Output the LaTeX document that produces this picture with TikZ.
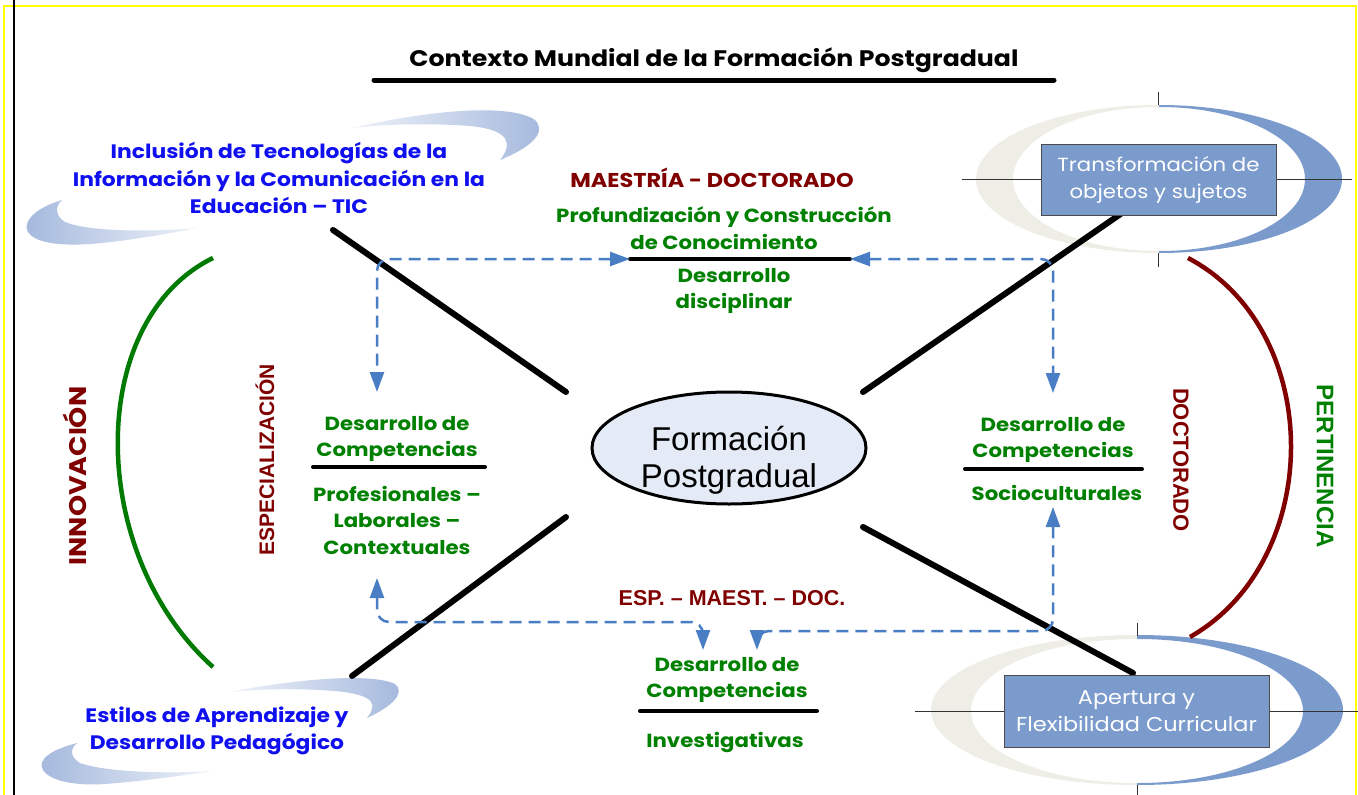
\documentclass[tikz,border=0pt]{standalone}
\usepackage{fontspec}
\setmainfont{Poppins}[FakeStretch=1.12]
\newfontfamily\arialf{Liberation Sans}
\usetikzlibrary{arrows.meta,shapes.geometric}
\definecolor{dred}{HTML}{800000}
\definecolor{dgreen}{HTML}{008000}
\definecolor{arcgreen}{HTML}{007A00}
\definecolor{tblue}{HTML}{0F0FF0}
\definecolor{dashblue}{HTML}{4A7EC4}
\definecolor{boxblue}{HTML}{7B9BCD}
\definecolor{beige}{HTML}{EEEEE6}
\definecolor{swblue}{HTML}{A4B8DD}
\definecolor{swlight}{HTML}{EEF2F9}
\definecolor{ellfill}{HTML}{E4EAF6}
\definecolor{frameyellow}{HTML}{FFFF00}
\tikzset{
  gtext/.style={text=dgreen, font=\bfseries\fontsize{19}{26.5}\selectfont, align=center, inner sep=0pt},
  btext/.style={text=tblue, font=\bfseries\fontsize{19.5}{27.5}\selectfont, align=center, inner sep=0pt},
  rtext/.style={text=dred, font=\bfseries\fontsize{20}{22}\selectfont, inner sep=0pt},
  rtextA/.style={text=dred, font=\arialf\bfseries\fontsize{21.5}{23}\selectfont, inner sep=0pt},
  xline/.style={line width=6pt, line cap=round, black},
  sepline/.style={line width=4pt, line cap=round, black},
  dasharr/.style={draw=dashblue, line width=2.5pt, dash pattern=on 12pt off 7pt, rounded corners=12pt,
     arrows={Triangle[length=20pt,width=14pt]-Triangle[length=20pt,width=14pt]}},
  rbox/.style={draw=black!70, line width=1pt, fill=boxblue, text=white, font=\fontsize{19}{27}\selectfont, align=center, inner sep=0pt},
  cross/.style={line width=0.8pt, black!80},
}
\begin{document}
\begin{tikzpicture}[x=1pt,y=-1pt]
\useasboundingbox (0,0) rectangle (1358,795);
\fill[white] (0,0) rectangle (1358,795);
% frame
\draw[frameyellow, line width=2pt] (4,795) -- (4,6) -- (1356,6) -- (1356,795);
\draw[black, line width=2pt] (14,0) -- (14,795);

% title
\node[inner sep=0pt, font=\bfseries\fontsize{22.5}{24}\selectfont] (title) at (714,60) {Contexto Mundial de la Formación Postgradual};
\coordinate (tl) at (374,80); \coordinate (tr) at (1054,80);
\draw[line width=5pt, line cap=round] (tl) -- (tr);

% top-left swoosh
\shade[left color=swlight, right color=swblue] (352,128) .. controls (430,110) and (510,103) .. (535,120) .. controls (547,132) and (532,147) .. (500,160) .. controls (512,145) and (512,130) .. (470,126) .. controls (430,123) and (385,124) .. (352,128) -- cycle;
\shade[left color=swblue, right color=swlight] (62,200) .. controls (35,208) and (22,222) .. (28,232) .. controls (35,243) and (60,246) .. (90,244) .. controls (130,241) and (170,233) .. (198,228) .. controls (150,232) and (90,232) .. (65,222) .. controls (55,216) and (55,206) .. (62,200) -- cycle;
% bottom-left swoosh
\shade[left color=swlight, right color=swblue] (230,692) .. controls (290,680) and (370,672) .. (395,684) .. controls (405,692) and (395,705) .. (367,718) .. controls (377,705) and (377,695) .. (335,691) .. controls (295,688) and (260,689) .. (230,692) -- cycle;
\shade[left color=swblue, right color=swlight] (77,743) .. controls (50,750) and (37,760) .. (43,770) .. controls (50,781) and (75,786) .. (105,784) .. controls (145,781) and (185,775) .. (213,771) .. controls (165,774) and (105,772) .. (80,763) .. controls (70,757) and (70,749) .. (77,743) -- cycle;

% top-right ring
\begin{scope}
\clip (960,90) rectangle (1159,270);
\fill[beige, even odd rule] (1159,179) ellipse [x radius=183, y radius=74] (1158,179) ellipse [x radius=145, y radius=72];
\end{scope}
\begin{scope}
\clip (1159,90) rectangle (1358,270);
\fill[boxblue, even odd rule] (1159,179) ellipse [x radius=183, y radius=74] (1160,179) ellipse [x radius=145, y radius=72];
\end{scope}
\coordinate (c1l) at (962,179); \coordinate (c1r) at (1352,179);
\coordinate (c1t1) at (1158,92); \coordinate (c1t2) at (1158,105);
\coordinate (c1b1) at (1158,253); \coordinate (c1b2) at (1158,267);
\draw[cross] (c1l) -- (c1r);
\draw[cross] (c1t1) -- (c1t2);
\draw[cross] (c1b1) -- (c1b2);

% bottom-right ring
\begin{scope}
\clip (920,620) rectangle (1137,795);
\fill[beige, even odd rule] (1137,710) ellipse [x radius=206, y radius=75] (1136,711) ellipse [x radius=165, y radius=72];
\end{scope}
\begin{scope}
\clip (1137,620) rectangle (1358,795);
\fill[boxblue, even odd rule] (1137,710) ellipse [x radius=206, y radius=75] (1138,711) ellipse [x radius=165, y radius=72];
\end{scope}
\coordinate (c2l) at (915,711); \coordinate (c2r) at (1358,711);
\coordinate (c2t1) at (1137,623); \coordinate (c2t2) at (1137,636);
\coordinate (c2b1) at (1137,785); \coordinate (c2b2) at (1137,795);
\draw[cross] (c2l) -- (c2r);
\draw[cross] (c2t1) -- (c2t2);
\draw[cross] (c2b1) -- (c2b2);

% arcs
\coordinate (ga) at (213,258); \coordinate (gb) at (213,667);
\draw[arcgreen, line width=4.5pt] (ga) .. controls (86,320) and (86,553) .. (gb);
\coordinate (ra) at (1188,258); \coordinate (rb) at (1190,637);
\draw[dred, line width=4.5pt] (ra) .. controls (1325,330) and (1325,560) .. (rb);

% black X lines
\coordinate (ulA) at (333,230); \coordinate (ulB) at (566,392);
\coordinate (urA) at (863,392); \coordinate (urB) at (1122,213);
\coordinate (llA) at (352,676); \coordinate (llB) at (566,517);
\coordinate (lrA) at (863,527); \coordinate (lrB) at (1133,673);
\draw[xline] (ulA) -- (ulB);
\draw[xline] (urA) -- (urB);
\draw[xline] (llA) -- (llB);
\draw[xline] (lrA) -- (lrB);

% separator lines
\coordinate (mdL) at (630,259); \coordinate (mdR) at (850,259);
\coordinate (lsL) at (313,467); \coordinate (lsR) at (485,467);
\coordinate (rsL) at (965,469); \coordinate (rsR) at (1142,469);
\coordinate (bsL) at (640,711); \coordinate (bsR) at (817,711);
\draw[sepline] (mdL) -- (mdR);
\draw[sepline] (lsL) -- (lsR);
\draw[sepline] (rsL) -- (rsR);
\draw[sepline] (bsL) -- (bsR);

% dashed arrows
\coordinate (lTop) at (377,392);
\coordinate (rTop) at (1053,393);
\coordinate (lBot) at (377,578);
\coordinate (rBot) at (1053,507);
\coordinate (iL) at (703,650);
\coordinate (iR) at (757,650);
\draw[dasharr] (mdL) -- (377,259) -- (lTop);
\draw[dasharr] (mdR) -- (1053,259) -- (rTop);
\draw[dasharr] (lBot) -- (377,622) -- (703,622) -- (iL);
\draw[dasharr] (rBot) -- (1053,631) -- (757,631) -- (iR);

% texts
\node[btext] (tic) at (279,178) {Inclusión de Tecnologías de la\\Información y la Comunicación en la\\Educación – TIC};
\node[btext] (est) at (217,731) {Estilos de Aprendizaje y\\Desarrollo Pedagógico};

\node[rtext] (md) at (712,178) {MAESTRÍA - DOCTORADO};
\node[gtext] (prof) at (724,228) {Profundización y Construcción\\de Conocimiento};
\node[gtext] (disc) at (734,291) {Desarrollo\\disciplinar};

\node[gtext] (lc1) at (397,439) {Desarrollo de\\Competencias};
\node[gtext] (lc2) at (397,520) {Profesionales –\\Laborales –\\Contextuales};
\node[gtext] (rc1) at (1053,440) {Desarrollo de\\Competencias};
\node[gtext] (rc2) at (1057,493) {Socioculturales};
\node[gtext] (bc1) at (727,680) {Desarrollo de\\Competencias};
\node[gtext] (bc2) at (725,742) {Investigativas};
\node[rtextA] (emd) at (732,598) {ESP. – MAEST. – DOC.};

\node[rtext, font=\bfseries\fontsize{24}{26}\selectfont, rotate=90] (inno) at (75,476) {INNOVACIÓN};
\node[rtextA, font=\arialf\bfseries\fontsize{21}{22}\selectfont, rotate=90] (esp) at (265,460) {ESPECIALIZACIÓN};
\node[rtextA, font=\arialf\bfseries\fontsize{22}{24}\selectfont, rotate=-90] (doc) at (1181,460) {DOCTORADO};
\node[text=dgreen, inner sep=0pt, font=\arialf\bfseries\fontsize{24}{26}\selectfont, rotate=-90] (pert) at (1325,466) {PERTINENCIA};

% boxes
\node[rbox, minimum width=235pt, minimum height=71pt] (tos) at (1158.5,179.5) {Transformación de\\objetos y sujetos};
\node[rbox, minimum width=265pt, minimum height=72pt, font=\fontsize{20}{27}\selectfont] (afc) at (1136.5,711) {Apertura y\\Flexibilidad Curricular};

% center ellipse
\node[ellipse, draw, line width=3pt, fill=ellfill, minimum width=274pt, minimum height=112pt, inner sep=0pt] (fp) at (729,448) {};
\node[inner sep=0pt, align=center, font=\arialf\fontsize{33}{37}\selectfont] (fptext) at (729,460) {Formación\\Postgradual};
\end{tikzpicture}
\end{document}
